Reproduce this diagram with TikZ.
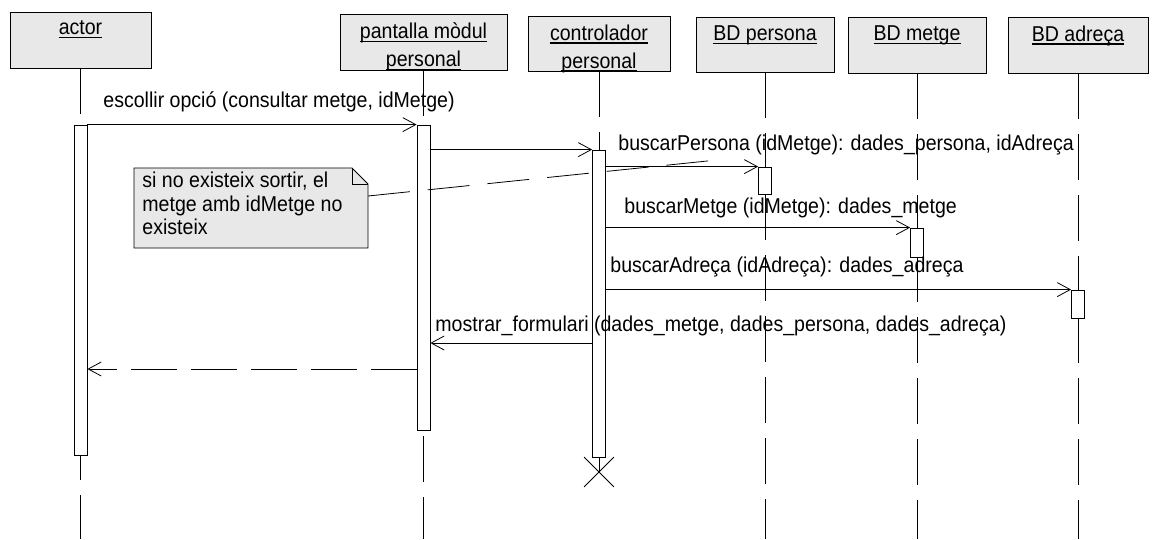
\documentclass[tikz,border=0pt]{standalone}
\usepackage{fontspec}
\setmainfont{Liberation Sans}[FakeStretch=0.91]
\usetikzlibrary{arrows.meta,positioning,shapes.misc}

\newcommand{\objul}[1]{\leavevmode\setbox0=\hbox{#1}\rlap{\rule[-3pt]{\wd0}{1.1pt}}\box0}

\begin{document}
\begin{tikzpicture}[x=1pt, y=-1pt, line width=0.8pt, >={Straight Barb[length=13pt,width=14pt]},
  objbox/.style={draw, fill=black!9, minimum height=56pt, inner sep=0pt},
  objname/.style={font=\fontsize{21.5}{28}\selectfont, align=center, inner sep=0pt},
  act/.style={draw, fill=white, minimum width=13pt, inner sep=0pt},
  lifeline/.style={dash pattern=on 46pt off 15pt},
  msgtxt/.style={font=\fontsize{21.5}{24}\selectfont, anchor=base west, inner sep=0pt},
  notetxt/.style={font=\fontsize{21.5}{23.5}\selectfont, align=left, inner sep=0pt}]
\path[use as bounding box] (0,0) rectangle (1152,539);
\coordinate (bottom) at (0,539);
% objects
\node[objbox, minimum width=141pt] (actor) at (80.5,40) {};
\node[objbox, minimum width=167pt] (pant) at (423.5,42) {};
\node[objbox, minimum width=142pt, minimum height=55pt] (ctrl) at (599,43.5) {};
\node[objbox, minimum width=138pt, minimum height=55pt] (bdp) at (765,44.5) {};
\node[objbox, minimum width=138pt] (bdm) at (917,45) {};
\node[objbox, minimum width=140pt] (bda) at (1078,45) {};
\node[objname, below=9pt of actor.north] (actorN) {\objul{actor}};
\node[objname, below=9pt of pant.north] (pantN) {\objul{pantalla mòdul}\\\objul{personal}};
\node[objname, below=9pt of ctrl.north] (ctrlN) {\objul{controlador}\\\objul{personal}};
\node[objname, below=9pt of bdp.north] (bdpN) {\objul{BD persona}};
\node[objname, below=9pt of bdm.north] (bdmN) {\objul{BD metge}};
\node[objname, below=9pt of bda.north] (bdaN) {\objul{BD adreça}};
% lifelines
\draw[lifeline] (actor.south) -- (actor.south |- bottom);
\draw[lifeline] (pant.south) -- (pant.south |- bottom);
\draw[lifeline] (bdp.south) -- (bdp.south |- bottom);
\draw[lifeline] (bdm.south) -- (bdm.south |- bottom);
\draw[lifeline] (bda.south) -- (bda.south |- bottom);
% activations
\node[act, minimum height=330pt] (actA) at (80.5,290) {};
\node[act, minimum height=305pt] (panA) at (423.5,277.5) {};
\node[act, minimum height=307pt] (ctrA) at (599,303.5) {};
\node[act, minimum height=27pt] (bdpA) at (765,180.5) {};
\node[act, minimum height=29pt] (bdmA) at (917,242.5) {};
\node[act, minimum height=28pt] (bdaA) at (1078,304) {};
\draw[lifeline] (ctrl.south) -- (ctrA.north);
\node[draw, cross out, minimum size=29pt, inner sep=0pt] (ctrX) at (599,472) {};
\draw (ctrA.south) -- (ctrX.center);
% messages
\draw[->] (actA.north east) -- (panA.north west);
\draw[->] (panA.east |- ctrA.north) -- (ctrA.north west);
\draw[->] (ctrA.east |- bdpA.north) -- (bdpA.north west);
\draw[->] (ctrA.east |- bdmA.north) -- (bdmA.north west);
\draw[->] (ctrA.east |- bdaA.north) -- (bdaA.north west);
\coordinate (m6) at (0,343);
\coordinate (m7) at (0,369);
\draw[->] (ctrA.west |- m6) -- (panA.east |- m6);
\draw[->, dash pattern=on 46pt off 14pt] (panA.west |- m7) -- (actA.east |- m7);
\node[msgtxt] (m1txt) at (103,107) {escollir opció (consultar metge, idMetge)};
\node[msgtxt] (m3txt) at (618,150) {buscarPersona (idMetge): dades\_persona, idAdreça};
\node[msgtxt] (m4txt) at (624,213) {buscarMetge (idMetge): dades\_metge};
\node[msgtxt] (m5txt) at (610,272) {buscarAdreça (idAdreça): dades\_adreça};
\node[msgtxt] (m6txt) at (435,331) {mostrar\_formulari (dades\_metge, dades\_persona, dades\_adreça)};
% note
\coordinate (noteNW) at (134,168);
\coordinate (noteSE) at (368,248);
\coordinate (noteEnd) at (717,160);
\draw[fill=black!9] (noteNW) -- ([xshift=-16pt]noteNW -| noteSE) -- ([yshift=-16pt]noteNW -| noteSE)
  -- (noteSE) -- (noteNW |- noteSE) -- cycle;
\draw ([xshift=-16pt]noteNW -| noteSE) |- ([yshift=-16pt]noteNW -| noteSE);
\node[notetxt, anchor=north west] (note) at ([xshift=8pt,yshift=-4pt]noteNW) {si no existeix sortir, el\\metge amb idMetge no\\existeix};
\draw[dash pattern=on 42pt off 18pt] ([yshift=-28pt]noteNW -| noteSE) -- (noteEnd);
\end{tikzpicture}
\end{document}
